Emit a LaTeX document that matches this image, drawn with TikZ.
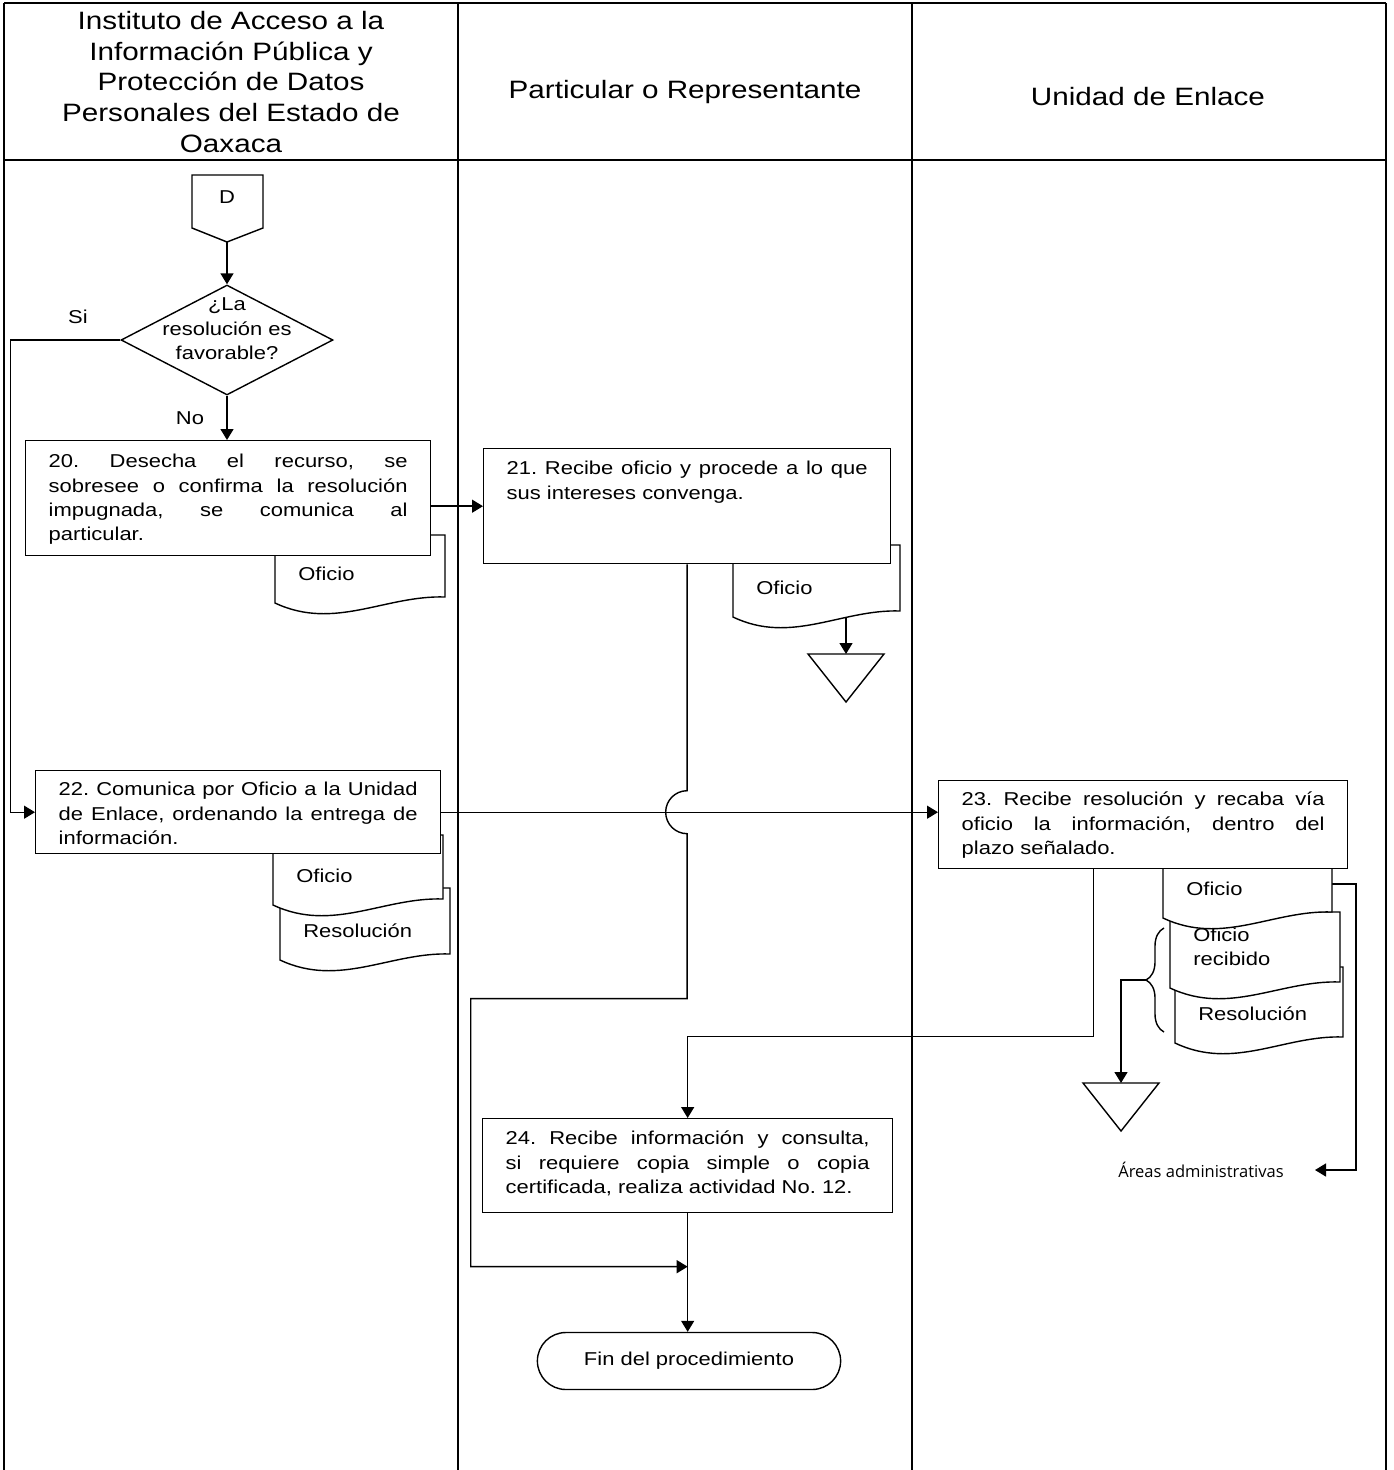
\documentclass[tikz,border=0pt]{standalone}
\usepackage{fontspec}
\setmainfont{Liberation Sans}[FakeStretch=1.18]
\newfontfamily\rotulo{Open Sans}
\usetikzlibrary{arrows.meta, calc, backgrounds, shapes.geometric, shapes.misc, decorations.pathreplacing}

\newcommand{\cuerpo}{\fontsize{10.6}{13.9}\selectfont\frenchspacing}
\newcommand{\titulo}{\fontsize{14.3}{17.6}\selectfont}
\newcommand{\chica}{\rotulo\fontsize{9.4}{10}\selectfont}

\tikzset{
  marco/.style={line width=0.6pt},
  caja/.style={draw, line width=0.8pt, fill=white},
  actividad/.style={caja, anchor=north west, font=\cuerpo, align=justify,
    inner ysep=0pt, inner xsep=0.46cm},
  decision/.style={diamond, draw, line width=0.8pt, fill=white,
    minimum width=4.24cm, minimum height=2.2cm, inner sep=0pt},
  fin/.style={rounded rectangle, draw, line width=0.8pt, fill=white,
    minimum width=6.3cm, minimum height=1.14cm, font=\cuerpo},
  linea/.style={line width=0.8pt},
  flecha/.style={line width=0.8pt, -{Triangle[length=0.22cm, width=0.26cm]}},
  etiqueta/.style={font=\cuerpo, inner sep=0pt, align=left},
}

% hoja con borde inferior ondulado: nombre, x izq, y arriba, x der, y abajo, texto
\newcommand{\hoja}[6]{%
  \draw[caja] (#2,#3) -- (#4,#3) -- (#4,#5-6)
    .. controls ({#4-0.35*(#4-#2)},#5-8) and ({#2+0.35*(#4-#2)},#5+28) .. (#2,#5) -- cycle;
  \node[etiqueta, anchor=south west] (#1) at (#2+23,#5-22) {#6};
  \coordinate (#1-e) at (#4,{0.5*(#3+#5)});
}

% archivo (triangulo): nombre, x, y del lado superior
\newcommand{\archivo}[3]{%
  \draw[caja] (#2-38,#3) -- (#2+38,#3) -- (#2,#3+48) -- cycle;
  \coordinate (#1) at (#2,#3);
}

\begin{document}
\begin{tikzpicture}[x=0.02cm, y=-0.02cm]
\useasboundingbox (0,0) rectangle (1393,1470);

% encabezados
\node[font=\titulo, align=center] (h1) at (231,82) {Instituto de Acceso a la\\Información Pública y\\Protección de Datos\\Personales del Estado de\\Oaxaca};
\node[font=\titulo] (h2) at (685,92) {Particular o Representante};
\node[font=\titulo] (h3) at (1148,97) {Unidad de Enlace};

% conector D
\draw[caja] (192,175) -- (263,175) -- (263,228) -- (227,242) -- (192,228) -- cycle;
\node[font=\cuerpo] (D) at (227,197) {D};
\coordinate (D-s) at (227,242);

\node[decision] (rombo) at (227,340) {};
\node[font=\cuerpo, align=center] (rombo-t) at ([yshift=0.22cm]rombo) {¿La\\resolución es\\favorable?};
\node[font=\cuerpo] (si) at (78,317) {Si};
\node[font=\cuerpo] (no) at (190,418) {No};

% documentos
\hoja{of20}{275}{535}{445}{603}{Oficio}
\hoja{res22}{280}{888}{450}{960}{Resolución}
\hoja{of22}{273}{835}{443}{905}{Oficio}
\hoja{of21}{733}{545}{900}{617}{Oficio}
\hoja{res23}{1175}{967}{1343}{1043}{Resolución}
\hoja{rec23}{1170}{912}{1340}{988}{Oficio\\recibido}
\hoja{of23}{1163}{850}{1332}{918}{Oficio}

% actividades
\node[actividad, text width=7.18cm, text height=0.54cm, text depth=1.76cm] (a20) at (25,440)
  {20. Desecha el recurso, se\linebreak sobresee o confirma la resolución\linebreak impugnada, se comunica al\linebreak particular.};
\node[actividad, text width=7.22cm, text height=0.52cm, text depth=1.78cm] (a21) at (483,448)
  {21. Recibe oficio y procede a lo que\linebreak sus intereses convenga.};
\node[actividad, text width=7.18cm, text height=0.50cm, text depth=1.16cm] (a22) at (35,770)
  {22. Comunica por Oficio a la Unidad\linebreak de Enlace, ordenando la entrega de\linebreak información.};
\node[actividad, text width=7.26cm, text height=0.50cm, text depth=1.26cm] (a23) at (938,780)
  {23. Recibe resolución y recaba vía\linebreak oficio la información, dentro del\linebreak plazo señalado.};
\node[actividad, text width=7.28cm, text height=0.52cm, text depth=1.36cm] (a24) at (482,1118)
  {24. Recibe información y consulta,\linebreak si requiere copia simple o copia\linebreak certificada, realiza actividad No. 12.};
\node[fin] (fin) at (689,1361) {Fin del procedimiento};

\archivo{arch21}{846}{654}
\archivo{arch23}{1121}{1083}
\draw[linea, decorate, decoration={brace, amplitude=0.36cm}] (1164,1032) -- (1164,928);
\coordinate (llave) at (1146,980);
\node[font=\chica, inner sep=0pt] (areas) at (1201,1170) {Áreas administrativas};

\coordinate (cruce) at (a21.south |- a22.east);
\coordinate (union) at ($(a24.south)!0.45!(a24.south |- fin.north)$);

\begin{scope}[on background layer]
% marco
\draw[marco] (4,3) -- (1386,3);
\draw[marco] (4,160) -- (1386,160);
\draw[marco] (4,3) -- (4,1470);
\draw[marco] (458,3) -- (458,1470);
\draw[marco] (912,3) -- (912,1470);
\draw[marco] (1386,3) -- (1386,1470);

% conectores
\draw[flecha] (D-s) -- (rombo.north);
\draw[flecha] (rombo.south) -- (rombo.south |- a20.north);
\draw[flecha] (rombo.west) -- ++(-110,0) |- (a22.west);
\draw[flecha] (a21.west -| a20.east) -- (a21.west);
\draw[flecha] (a22.east) -- (a22.east -| a23.west);
\draw[flecha] (of21.south -| arch21) -- (arch21);
\draw[flecha] (a21.south) -- ([yshift=0.43cm]cruce)
  arc[start angle=90, end angle=270, radius=0.43cm]
  -- ++(0,165) -| ([xshift=-4.34cm]union) -- (union);
\draw[flecha] ($(a23.south west)!0.379!(a23.south east)$) -- ++(0,167) -| (a24.north);
\draw[flecha] (a24.south) -- (a24.south |- fin.north);
\draw[flecha] (llave) -| (arch23);
\draw[flecha] (of23-e) -- ++(24,0) |- ([xshift=0.62cm]areas.east);
\end{scope}
\end{tikzpicture}
\end{document}
